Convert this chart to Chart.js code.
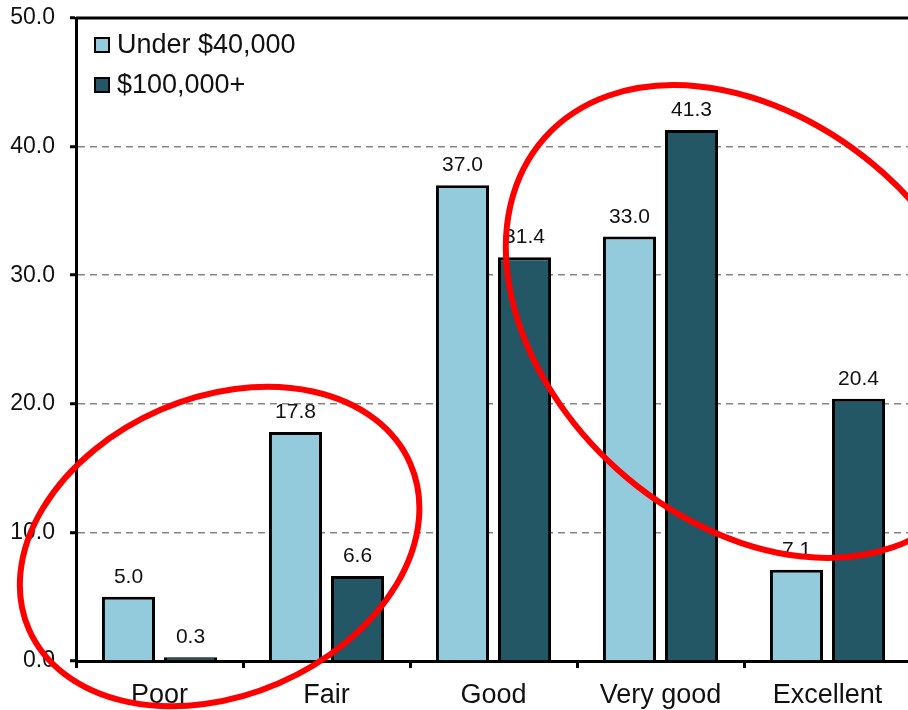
<!DOCTYPE html>
<html>
<head>
<meta charset="utf-8">
<script src="https://cdn.jsdelivr.net/npm/chart.js@4.4.1/dist/chart.umd.min.js"></script>
<style>
  html, body { margin: 0; padding: 0; background: #fff; overflow: hidden; }
  #wrap { width: 911px; height: 710px; }
</style>
</head>
<body>
<div id="wrap"><canvas id="c" width="911" height="710"></canvas></div>
<script>
  // data
  const categories = ['Poor', 'Fair', 'Good', 'Very good', 'Excellent']
  const under40k = [5.0, 17.8, 37.0, 33.0, 7.1]
  const over100k = [0.3, 6.6, 31.4, 41.3, 20.4]
  const seriesNames = ['Under $40,000', '$100,000+']
  const yTicks = [0, 10, 20, 30, 40, 50]

  // red rings: centre in category index / value, radii in category widths
  const rings = [
    { x: 0.36, y: 8.9, rx: 1.245, ry: 0.892, rot: -23.4 },
    { x: 3.54, y: 26.4, rx: 1.653, ry: 1.192, rot: 41.8 }
  ]

  const FONT = "'Liberation Sans', Arial, sans-serif"

  const frameTop = {
    id: 'frameTop',
    afterDraw(chart) {
      let a = chart.chartArea, c = chart.ctx
      c.save()
      c.strokeStyle = '#000'
      c.lineWidth = 3
      c.beginPath()
      c.moveTo(a.left, a.top)
      c.lineTo(a.right + 2, a.top)
      c.stroke()
      c.restore()
    }
  }

  const valueLabels = {
    id: 'valueLabels',
    afterDatasetsDraw(chart) {
      let c = chart.ctx
      c.save()
      c.font = '21px ' + FONT
      c.fillStyle = '#111'
      c.textAlign = 'center'
      c.textBaseline = 'bottom'
      chart.data.datasets.forEach((ds, i) => {
        chart.getDatasetMeta(i).data.forEach((bar, j) => {
          c.fillText(ds.data[j].toFixed(1), bar.x, bar.y - 9)
        })
      })
      c.restore()
    }
  }

  const insideLegend = {
    id: 'insideLegend',
    afterDraw(chart) {
      let a = chart.chartArea, c = chart.ctx
      c.save()
      c.font = '27px ' + FONT
      c.textBaseline = 'middle'
      chart.data.datasets.forEach((ds, i) => {
        let y = a.top + 27 + i * 40
        let x = a.left + 19
        c.fillStyle = ds.backgroundColor
        c.fillRect(x, y - 7, 14, 14)
        c.strokeStyle = '#000'
        c.lineWidth = 2
        c.strokeRect(x, y - 7, 14, 14)
        c.fillStyle = '#111'
        c.fillText(ds.label, x + 22, y + 1)
      })
      c.restore()
    }
  }

  const redRings = {
    id: 'redRings',
    afterDraw(chart) {
      let xs = chart.scales.x, ys = chart.scales.y, c = chart.ctx
      let cw = xs.getPixelForValue(1) - xs.getPixelForValue(0)
      c.save()
      c.strokeStyle = '#ff0000'
      c.lineWidth = 6
      rings.forEach(r => {
        let cx = xs.getPixelForValue(0) + r.x * cw
        let cy = ys.getPixelForValue(r.y)
        c.beginPath()
        c.ellipse(cx, cy, r.rx * cw, r.ry * cw, r.rot * Math.PI / 180, 0, Math.PI * 2)
        c.stroke()
      })
      c.restore()
    }
  }

  new Chart(document.getElementById('c'), {
    type: 'bar',
    data: {
      labels: categories,
      datasets: [
        {
          label: seriesNames[0],
          data: under40k,
          backgroundColor: '#93cbdc',
          borderColor: '#000',
          borderWidth: 3
        },
        {
          label: seriesNames[1],
          data: over100k,
          backgroundColor: '#235766',
          borderColor: '#000',
          borderWidth: 3
        }
      ]
    },
    options: {
      responsive: false,
      animation: false,
      categoryPercentage: 0.743,
      barPercentage: 0.855,
      layout: { padding: { top: 18, right: 0, left: 0, bottom: 0 } },
      plugins: {
        legend: { display: false },
        tooltip: { enabled: false }
      },
      scales: {
        x: {
          afterFit(s) { s.height = 49; s.paddingLeft = 0; s.paddingRight = 0 },
          grid: {
            offset: true,
            drawOnChartArea: false,
            tickLength: 7,
            tickColor: '#000',
            tickWidth: 3
          },
          border: { color: '#000', width: 3 },
          ticks: {
            color: '#111',
            padding: 11,
            font: { family: FONT, size: 27 }
          }
        },
        y: {
          min: 0,
          max: 50,
          afterFit(s) { s.width = 76; s.paddingTop = 0; s.paddingBottom = 0 },
          afterBuildTicks(s) { s.ticks = yTicks.map(v => ({ value: v })) },
          grid: {
            color: (ctx) => (ctx.tick && (ctx.tick.value === 0 || ctx.tick.value === 50)) ? 'rgba(0,0,0,0)' : '#858585',
            lineWidth: 1.5,
            tickLength: 6,
            tickColor: '#000',
            tickWidth: 3
          },
          border: { color: '#000', width: 3, dash: [7, 5] },
          ticks: {
            color: '#111',
            padding: 15,
            font: { family: FONT, size: 23 },
            callback: (v) => Number(v).toFixed(1)
          }
        }
      }
    },
    plugins: [frameTop, valueLabels, insideLegend, redRings]
  })
</script>
</body>
</html>
